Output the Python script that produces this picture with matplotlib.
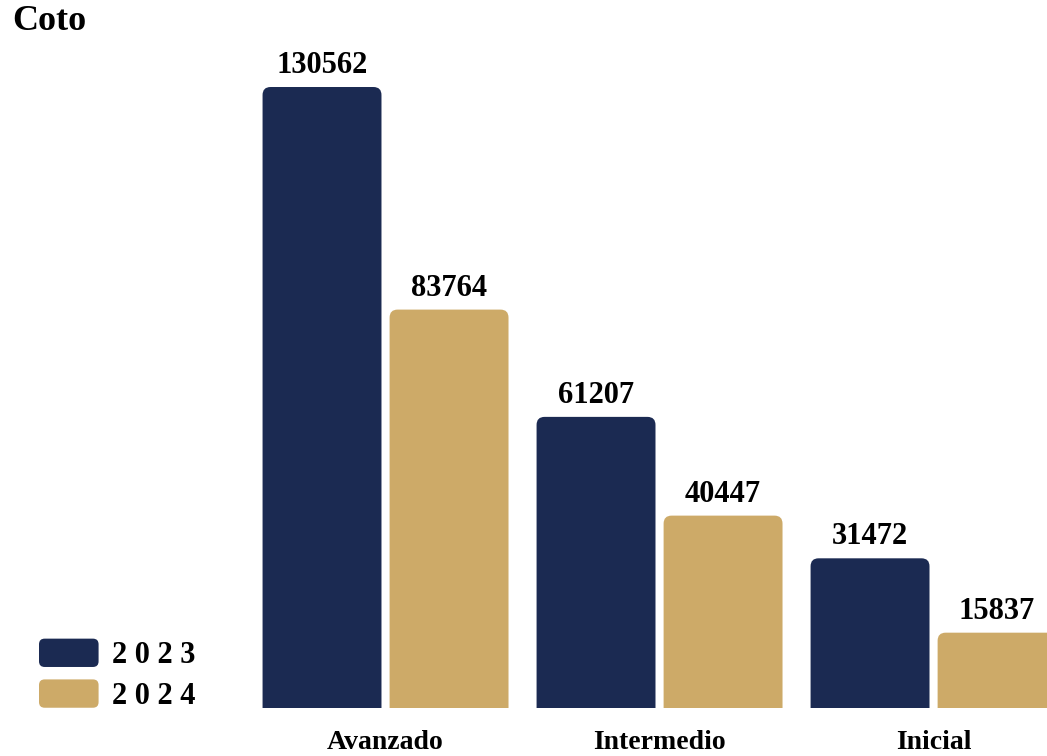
import numpy as np
import matplotlib
matplotlib.use("Agg")
import matplotlib.pyplot as plt
from matplotlib.patches import FancyBboxPatch, Patch
from matplotlib.legend_handler import HandlerPatch

plt.rcParams['font.family'] = ['Liberation Serif', 'DejaVu Serif']
plt.rcParams['font.weight'] = 'bold'

# datos
categorias = ["Avanzado", "Intermedio", "Inicial"]
anios = ["2023", "2024"]
valores_2023 = [130562, 61207, 31472]
valores_2024 = [83764, 40447, 15837]

colores = ["#1b2a52", "#cdaa68"]

fig = plt.figure(figsize=(10.47, 7.56), dpi=100)
ax = fig.add_axes([0, 48 / 756, 1, 708 / 756])

x = np.arange(len(categorias))
ancho = 0.434
desplazamiento = 0.2318

ymax = 148855
ax.set_xlim(-1.407, 2.414)
ax.set_ylim(0, ymax)

# radio de las esquinas en unidades de x, y aspecto para que sea redondo
radio = 8 / 274
aspecto = (ymax / 708) / (1 / 274)

for serie, (vals, col) in enumerate(zip([valores_2023, valores_2024], colores)):
    pos = x + (-desplazamiento if serie == 0 else desplazamiento)
    barras = ax.bar(pos, vals, width=ancho, color=col)
    for rect, v in zip(barras, vals):
        bx, bw, bh = rect.get_x(), rect.get_width(), rect.get_height()
        rect.remove()
        caja = FancyBboxPatch((bx, -radio * aspecto), bw, bh + radio * aspecto,
                              boxstyle=f"round,pad=0,rounding_size={radio}",
                              mutation_aspect=aspecto, facecolor=col,
                              edgecolor="none", clip_on=True)
        ax.add_patch(caja)
        ax.annotate(str(v), (bx + bw / 2, bh), xytext=(0, 5),
                    textcoords="offset points", ha="center", va="bottom",
                    fontsize=22, fontweight="bold")

ax.set_xticks(x)
ax.set_xticklabels(categorias, fontsize=20, fontweight="bold")
ax.tick_params(axis="x", length=0, pad=16)
ax.set_yticks([])
for s in ax.spines.values():
    s.set_visible(False)

fig.text(0.012, 0.994, "Coto", fontsize=26, fontweight="bold", ha="left", va="top")


class HandlerRedondo(HandlerPatch):
    def create_artists(self, legend, orig_handle, xdescent, ydescent,
                       width, height, fontsize, trans):
        p = FancyBboxPatch((-xdescent, -ydescent), width, height,
                           boxstyle=f"round,pad=0,rounding_size={height * 0.2}",
                           facecolor=orig_handle.get_facecolor(),
                           edgecolor="none", transform=trans)
        return [p]


manejadores = [Patch(facecolor=c) for c in colores]
etiquetas = [" ".join(a) for a in anios]
fig.legend(manejadores, etiquetas, loc="lower left",
           bbox_to_anchor=(39 / 1047, 45 / 756), frameon=False,
           fontsize=22, handlelength=1.95, handleheight=1.05,
           handletextpad=0.45, labelspacing=0.3, borderpad=0,
           borderaxespad=0, handler_map={Patch: HandlerRedondo()})

fig.savefig("out.png", dpi=100)
